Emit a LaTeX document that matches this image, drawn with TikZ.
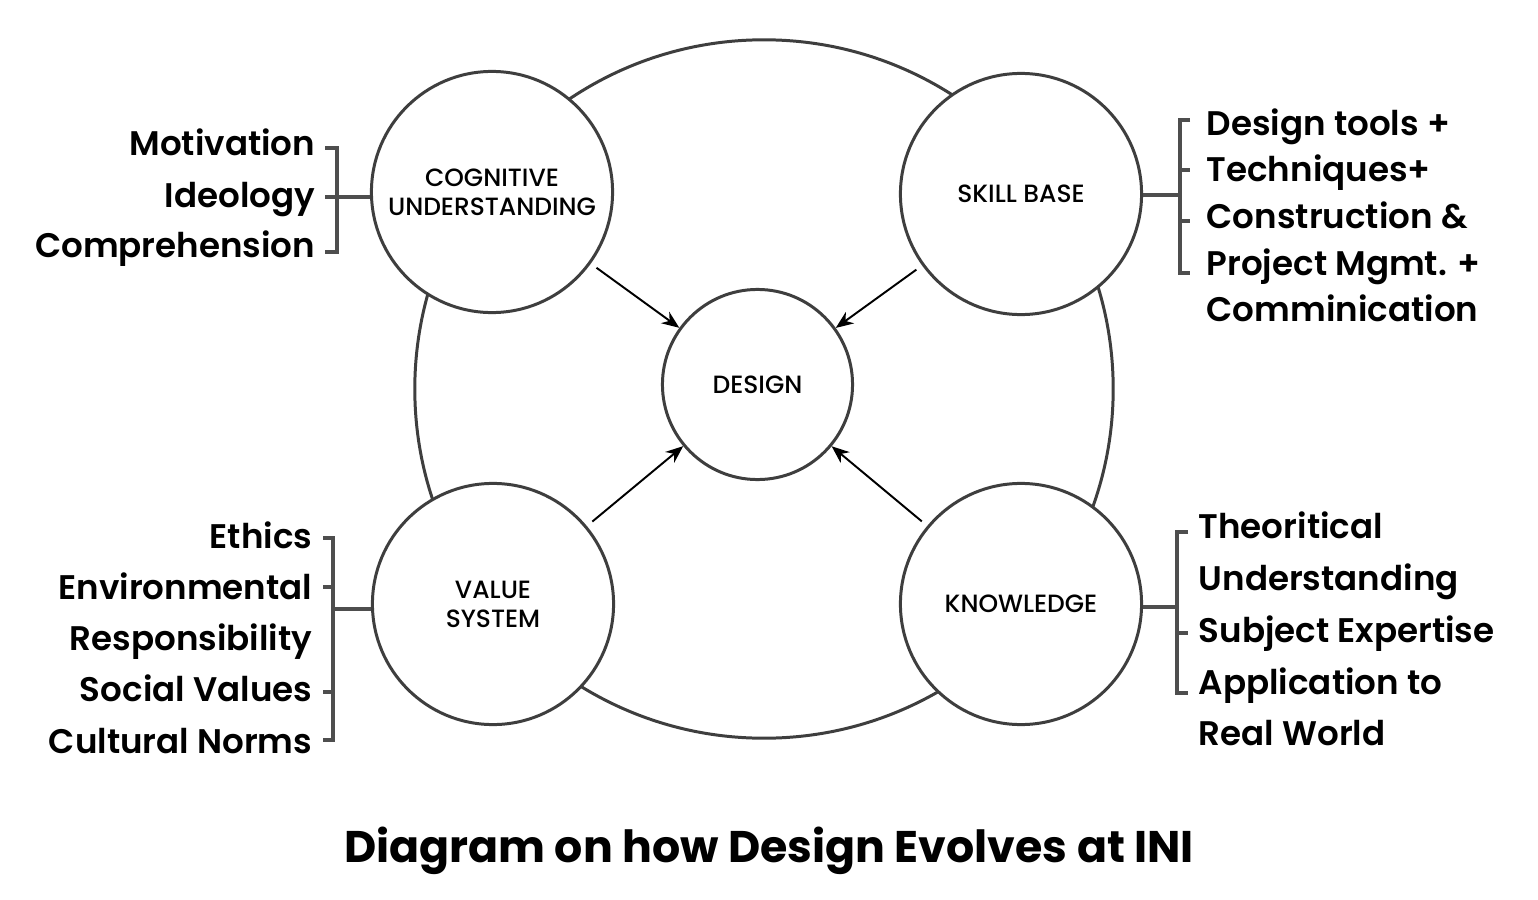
\documentclass[tikz,border=0pt]{standalone}
\usepackage{fontspec}
\setmainfont{Poppins}
\newfontfamily\semib{Poppins SemiBold}
\newfontfamily\medf{Poppins Medium}
\usetikzlibrary{arrows.meta}
\definecolor{ringc}{RGB}{62,62,62}
\definecolor{brkc}{RGB}{78,78,78}
\begin{document}
\begin{tikzpicture}[x=0.01cm,y=-0.01cm,
  ring/.style={draw=ringc, line width=0.85pt, circle, fill=white, minimum size=2.41cm, inner sep=0pt, align=center, font=\medf\fontsize{7.1}{8.3}\selectfont},
  side/.style={inner sep=0pt, font=\semib\fontsize{9.7}{11}\selectfont},
  lside/.style={side, anchor=base east},
  rside/.style={side, anchor=base west},
  brk/.style={draw=brkc, line width=1pt},
  arr/.style={draw=black, line width=0.55pt, -{Stealth[length=5pt,width=4pt,inset=1.6pt]}, shorten <=2pt}
]
\useasboundingbox (0,0) rectangle (1538,900);
\fill[white] (0,0) rectangle (1538,900);

% big ring
\draw[ringc, line width=0.85pt] (764,389) circle[radius=3.49cm];

% circles
\node[ring, minimum size=1.9cm] (design) at (757.5,384.5) {DESIGN};
\node[ring] (cog) at (492,192) {COGNITIVE\\UNDERSTANDING};
\node[ring] (skill) at (1021,194) {SKILL BASE};
\node[ring] (value) at (493,604) {VALUE\\SYSTEM};
\node[ring] (know) at (1021,604) {KNOWLEDGE};

% arrows
\draw[arr] (cog) -- (design);
\draw[arr] (skill) -- (design);
\draw[arr] (value) -- (design);
\draw[arr] (know) -- (design);

% left top
\node[lside] (mot) at (316,155) {Motivation};
\node[lside] (ide) at (316,207) {Ideology};
\node[lside] (com) at (316,258) {Comprehension};
\draw[brk] (325,148) -| (337,252) -- (325,252);
\draw[brk] (325,197) -- (cog.west |- 0,197);

% right top
\node[rside] (dt) at (1206,135.5) {Design tools +};
\node[rside] (tq) at (1206,181.5) {Techniques+};
\node[rside] (cn) at (1206,228.5) {Construction \&};
\node[rside] (pm) at (1206,275.5) {Project Mgmt. +};
\node[rside] (cm) at (1206,321.5) {Comminication};
\draw[brk] (1190,120) -| (1180,273) -- (1190,273);
\draw[brk] (1180,170) -- (1190,170);
\draw[brk] (1180,221) -- (1190,221);
\draw[brk] (skill.east |- 0,195) -- (1180,195);

% left bottom
\node[lside] (eth) at (313,548.5) {Ethics};
\node[lside] (env) at (313,599.5) {Environmental};
\node[lside] (res) at (313,650.5) {Responsibility};
\node[lside] (soc) at (313,701.5) {Social Values};
\node[lside] (cul) at (313,753.5) {Cultural Norms};
\draw[brk] (323,538) -| (333,740) -- (323,740);
\draw[brk] (323,587) -- (333,587);
\draw[brk] (323,692) -- (333,692);
\draw[brk] (333,609) -- (value.west |- 0,609);

% right bottom
\node[rside] (th) at (1198,538.5) {Theoritical};
\node[rside] (un) at (1198,590.5) {Understanding};
\node[rside] (sub) at (1198,642.5) {Subject Expertise};
\node[rside] (app) at (1198,694.5) {Application to};
\node[rside] (rw) at (1198,745.5) {Real World};
\draw[brk] (1188,532) -| (1177,693) -- (1188,693);
\draw[brk] (1177,633) -- (1188,633);
\draw[brk] (know.east |- 0,607) -- (1177,607);

% title
\node[inner sep=0pt, anchor=base, font=\bfseries\fontsize{12.6}{15}\selectfont] (title) at (769,862) {Diagram on how Design Evolves at INI};
\end{tikzpicture}
\end{document}
